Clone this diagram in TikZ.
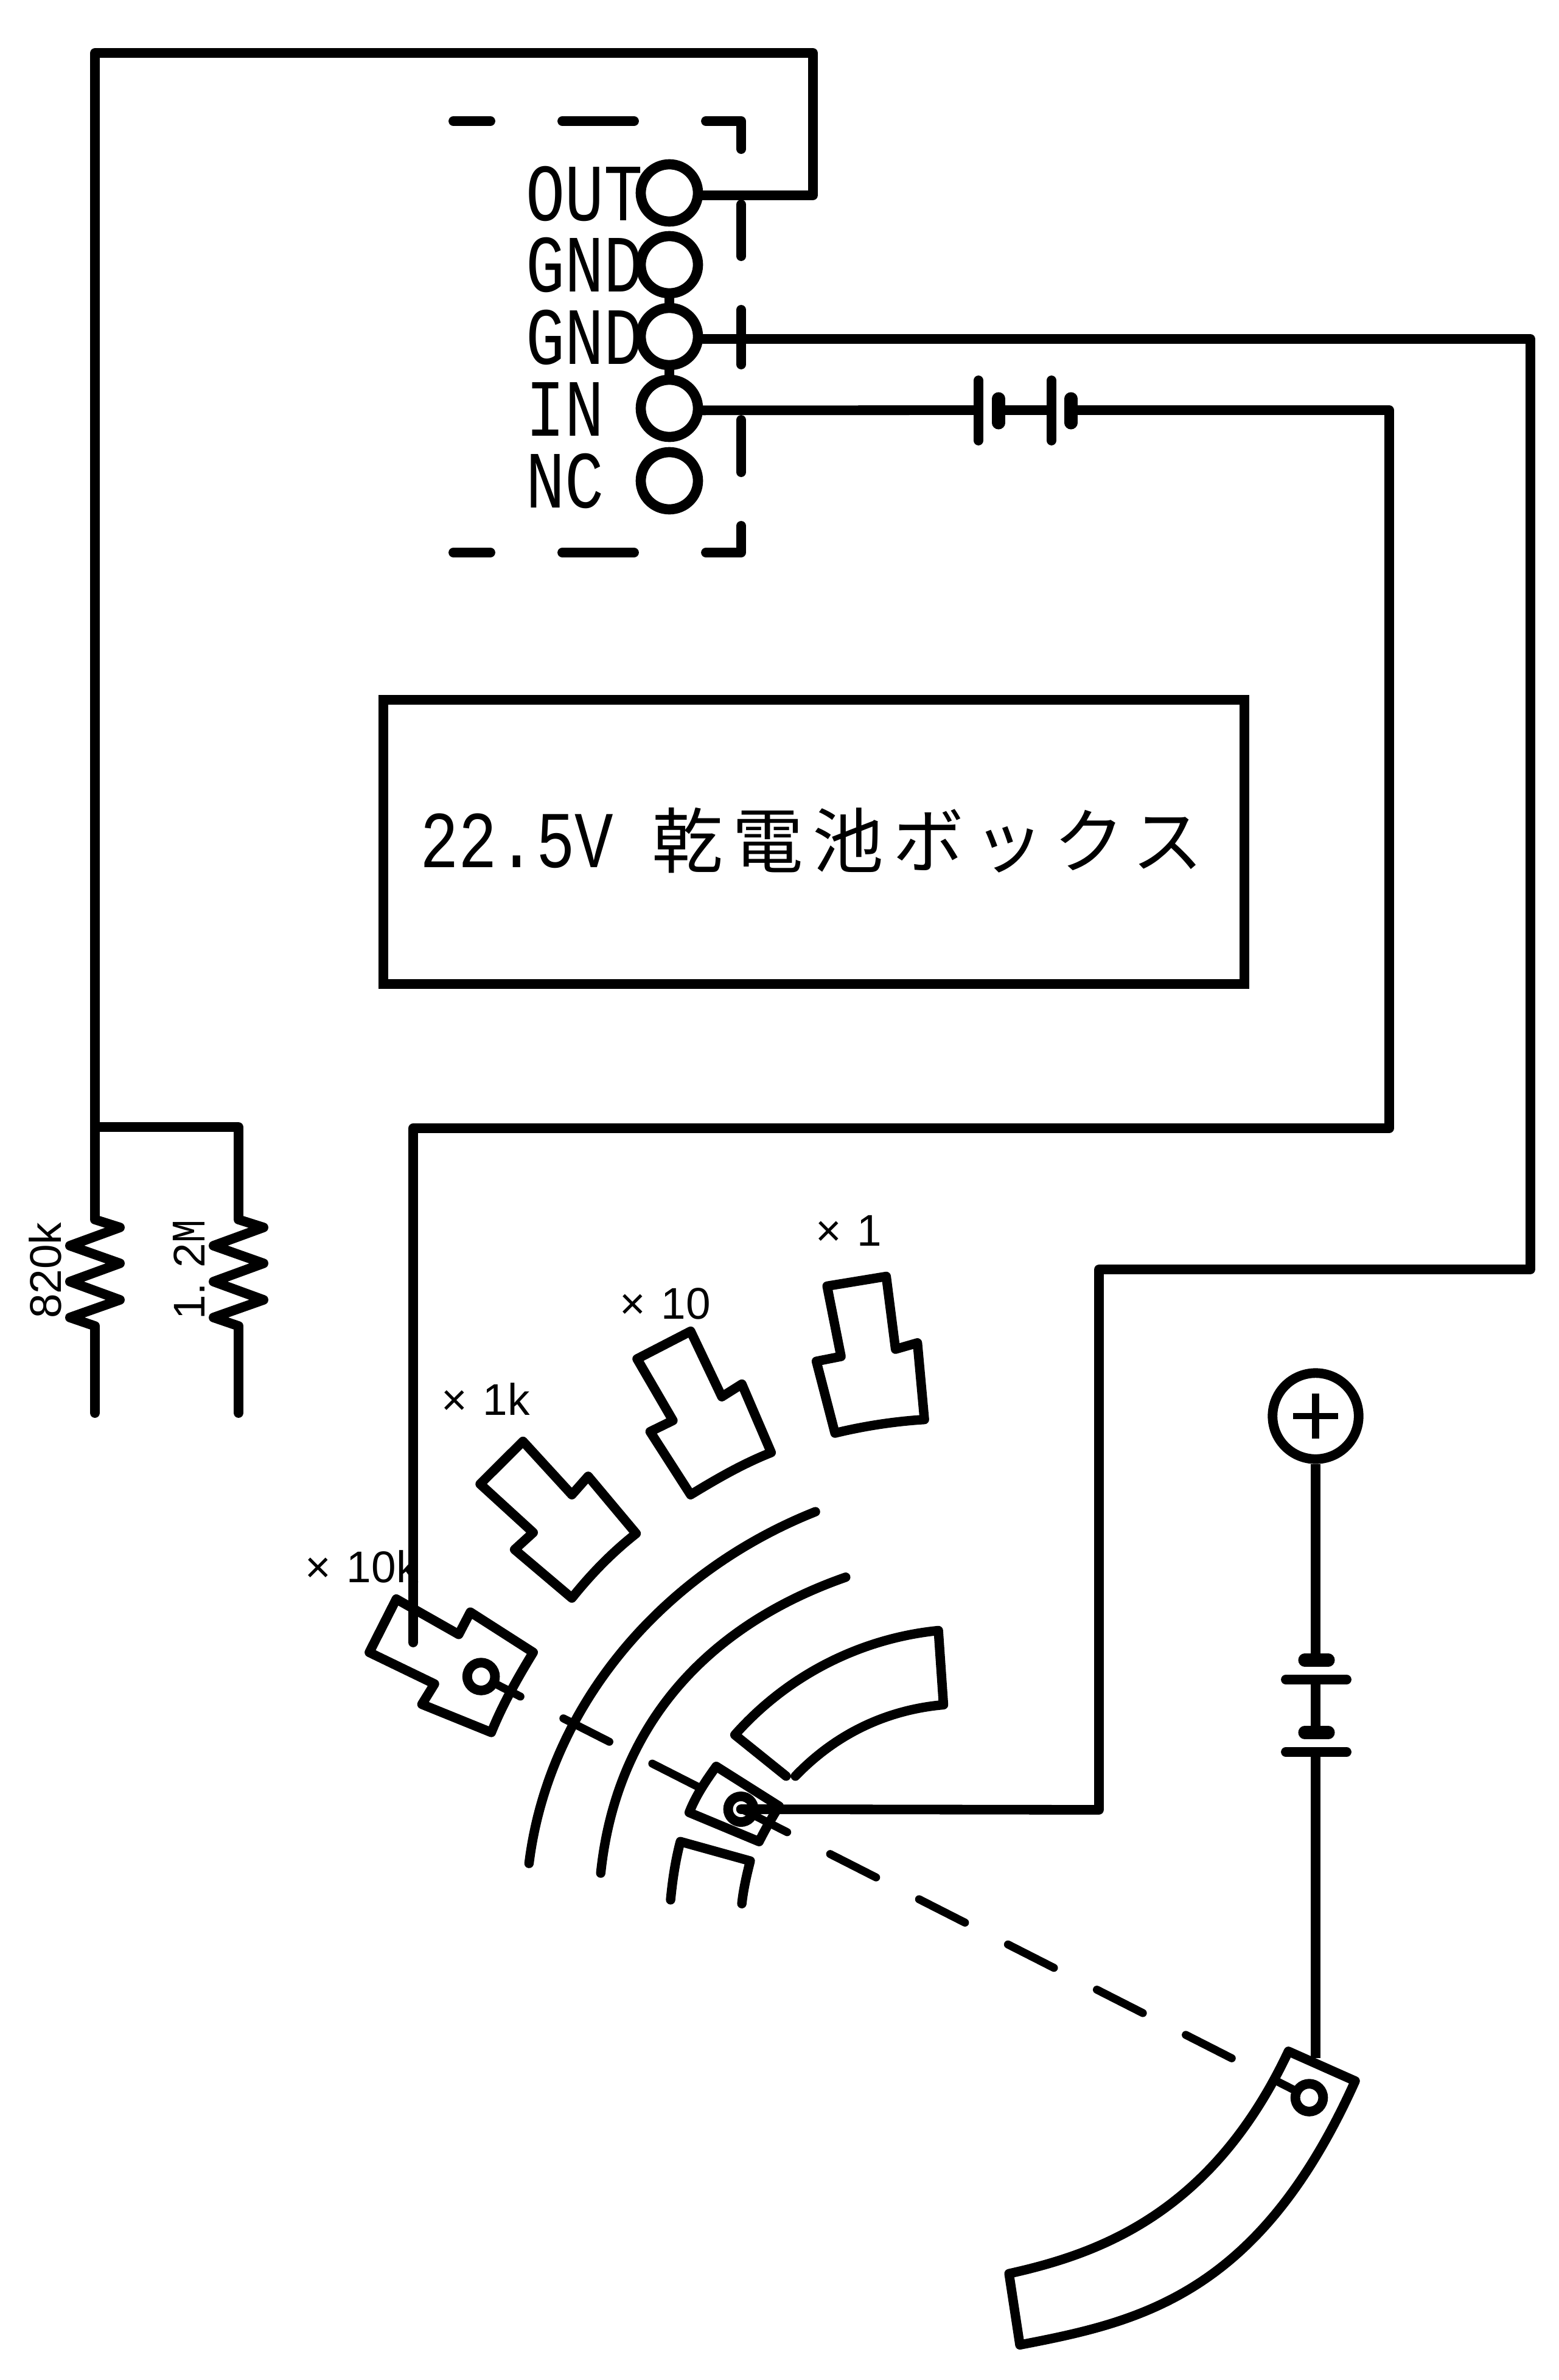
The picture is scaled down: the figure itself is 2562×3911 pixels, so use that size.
\documentclass[tikz,border=0pt]{standalone}
\usepackage{fontspec}
\newfontfamily\monof[FakeStretch=0.8]{Liberation Mono}
\newfontfamily\sansf{Liberation Sans}
\newfontfamily\cjkf[LetterSpace=13]{Noto Sans CJK JP}
\tikzset{
  wire/.style={line width=9pt,line cap=round,line join=round},
  thinw/.style={line width=8.8pt,line cap=round,line join=round},
  dashw/.style={line width=7.5pt,line cap=round,dash pattern=on 48.2pt off 45.1pt,dash phase=29.5pt},
  boxdash/.style={line width=9pt,line cap=round,line join=round},
  plate/.style={line width=9pt,line cap=round},
  shortplate/.style={line width=12pt,line cap=round},
  term/.style={circle,draw,line width=9.5pt,inner sep=0pt,minimum size=53.5pt},
  tap/.style={circle,draw,line width=9pt,inner sep=0pt,minimum size=26pt},
  pinlabel/.style={anchor=base west,inner sep=0pt,font=\monof\fontsize{76}{76}\selectfont},
  smalllabel/.style={anchor=base west,inner sep=0pt,font=\sansf\fontsize{41.5}{42}\selectfont},
}
\begin{document}
\begin{tikzpicture}[x=0.02cm,y=-0.02cm]
\useasboundingbox (0,0) rectangle (2562,3911);
\fill[white] (0,0) rectangle (2562,3911);

% dashed module outline
\draw[boxdash] (745,199) -- (806,199);
\draw[boxdash] (924,199) -- (1042,199);
\draw[boxdash] (1160,199) -- (1218,199) -- (1218,245);
\draw[boxdash] (1218,336) -- (1218,421);
\draw[boxdash] (1218,509) -- (1218,599);
\draw[boxdash] (1218,690) -- (1218,776);
\draw[boxdash] (1218,864) -- (1218,908) -- (1160,908);
\draw[boxdash] (924,908) -- (1042,908);
\draw[boxdash] (745,908) -- (806,908);

% terminals
\node[term] (out) at (1100,317) {};
\node[term] (gnda) at (1100,435) {};
\node[term] (gndb) at (1100,553) {};
\node[term] (inp) at (1100,671) {};
\node[term] (nc) at (1100,790) {};
\node[pinlabel] (lout) at (864,362) {OUT};
\node[pinlabel] (lgnda) at (864,479) {GND};
\node[pinlabel] (lgndb) at (864,598) {GND};
\node[pinlabel] (lin) at (864,716) {IN};
\node[pinlabel] (lnc) at (864,834) {NC};
\draw[wire] (gnda) -- (gndb);
\draw[wire] (gndb) -- (inp);

% resistors
\coordinate (ra) at (156,2004);
\coordinate (rb) at (392,2004);
\coordinate (raend) at (156,2322);
\coordinate (rbend) at (392,2322);
\coordinate (junc) at (156,1852);
\draw[wire] ([yshift=-2.3pt]out.east) -- (1336,321) -- (1336,87) -- (156,87) -- (junc) -- (ra)
  -- ++(41,13) -- ++(-82,30) -- ++(82,29) -- ++(-82,30) -- ++(82,30) -- ++(-82,29) -- ++(41,14) -- (raend);
\draw[wire] (junc) -- (392,1852) -- (rb)
  -- ++(41,13) -- ++(-82,30) -- ++(82,29) -- ++(-82,30) -- ++(82,30) -- ++(-82,29) -- ++(41,14) -- (rbend);
\node[smalllabel,rotate=90] (lr1) at (100,2167) {820k};
\node[smalllabel,rotate=90] (lr2) at (336,2169) {1\makebox[25.5pt][l]{.}2{\monof\fontsize{45}{45}\selectfont M}};

% series battery at IN
\coordinate (pa) at (1608,674);
\coordinate (pb) at (1641,674);
\coordinate (pc) at (1728,674);
\coordinate (pd) at (1760,674);
\draw[wire] ([yshift=-1.9pt]inp.east) -- (pa);
\draw[plate] (1608,625) -- (1608,724);
\draw[shortplate] (1641,655) -- (1641,695);
\draw[wire] (pb) -- (pc);
\draw[plate] (1728,625) -- (1728,724);
\draw[shortplate] (1760,655) -- (1760,695);

% selector taps
\node[tap] (tapk) at (790.6,2755) {};
\node[tap,minimum size=24pt] (wiper) at (1217.6,2973) {};
\node[tap] (pivot) at (2151.5,3447) {};

\draw[wire] (pd) -- (2283,674) -- (2283,1854) -- (679,1854) -- (679,2699);
\draw[wire] ([yshift=-2.3pt]gndb.east) -- (2515,557) -- (2515,2086) -- (1806,2086) -- (1806,2974) -- (wiper.center);

% box
\node[draw,line width=9pt,minimum width=805pt,minimum height=266pt,inner sep=0pt,anchor=center] (boxa) at (1337.5,1383.5) {};
\node[anchor=base west,inner sep=0pt] (lbox) at (690,1425) {\monof\fontsize{75.4}{76}\selectfont 22.5V {\cjkf\fontsize{66.5}{76}\selectfont 乾電池ボックス}};

% contacts (coordinates read in a 1.3067 x 1.2544 grid)
\begin{scope}[shift={(450,1950)},xscale=0.76529,yscale=0.79719]
\draw[thinw] (1188,205) -- (1315,185) -- (1335,335) -- (1382,322) -- (1397,480) .. controls (1330,484) and (1265,494) .. (1205,508) -- (1165,360) -- (1218,350) -- cycle;
\draw[thinw] (895,298) -- (962,433) -- (1005,407) -- (1068,548) .. controls (1005,572) and (950,603) .. (895,635) -- (808,505) -- (857,482) -- (780,355) -- cycle;
\draw[thinw] (535,525) -- (640,635) -- (675,597) -- (778,715) .. controls (725,755) and (680,800) .. (640,848) -- (517,748) -- (557,713) -- (443,613) -- cycle;
\draw[thinw] (263,850) -- (397,923) -- (422,877) -- (557,960) .. controls (522,1015) and (490,1070) .. (467,1125) -- (318,1067) -- (345,1025) -- (205,960) -- cycle;
% rails
\draw[thinw] (548,1395) .. controls (590,1070) and (835,795) .. (1163,670);
\draw[thinw] (702,1415) .. controls (735,1110) and (930,905) .. (1228,805);
% segments
\draw[thinw] (1100,1215) -- (990,1130) .. controls (1110,1000) and (1270,930) .. (1427,915) -- (1438,1068) .. controls (1320,1078) and (1210,1125) .. (1120,1215);
\draw[thinw] (852,1470) .. controls (856,1430) and (862,1390) .. (873,1350) -- (1023,1390) .. controls (1015,1420) and (1008,1450) .. (1005,1478);
% wiper
\draw[thinw] (950,1195) -- (1085,1277) .. controls (1070,1300) and (1055,1325) .. (1042,1350) -- (892,1290) .. controls (905,1258) and (925,1228) .. (950,1195) -- cycle;
\end{scope}

% pointer
\begin{scope}[shift={(1500,2200)},xscale=0.5102,yscale=1.0841]
\draw[thinw] (1210,1080) -- (1425,1125) .. controls (1114,1451) and (730,1490) .. (345,1525) -- (310,1417) .. controls (597,1387) and (963,1327) .. (1210,1080) -- cycle;
\end{scope}
\draw[dashw] (pivot) -- (tapk);

% plus terminal and battery
\node[circle,draw,line width=9pt,inner sep=0pt,minimum size=80.5pt] (plus) at (2162,2327) {};
\draw[line width=6.2pt] (2125,2327) -- (2199,2327);
\draw[line width=6.8pt] (2162,2290) -- (2162,2364);
\coordinate (ba) at (2162,2728);
\coordinate (bb) at (2162,2760);
\coordinate (bc) at (2162,2847);
\coordinate (bd) at (2162,2879);
\coordinate (be) at (2162,3382);
\draw[wire,line cap=butt] (plus) -- (ba);
\draw[shortplate] (2144,2728) -- (2183,2728);
\draw[plate] (2113,2760) -- (2213,2760);
\draw[wire,line cap=butt] (bb) -- (bc);
\draw[shortplate] (2144,2847) -- (2183,2847);
\draw[plate] (2113,2879) -- (2213,2879);
\draw[wire,line cap=butt] (bd) -- (be);

% range labels
\node[smalllabel] (lx1) at (1340,2047) {× \hspace{3.3pt}1};
\node[smalllabel] (lx10) at (1018,2167) {× \hspace{3.3pt}10};
\node[smalllabel] (lx1k) at (725,2325) {× \hspace{3.3pt}1k};
\node[smalllabel] (lx10k) at (501,2600) {× \hspace{3.3pt}10k};
\end{tikzpicture}
\end{document}
